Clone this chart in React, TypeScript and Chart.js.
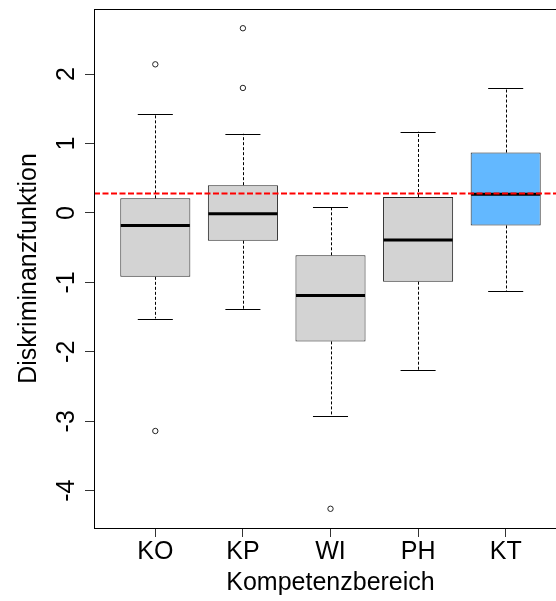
import React, { useEffect, useRef } from "react";
import { Chart, registerables } from "chart.js";

Chart.register(...registerables);

// ---- data ----
const categories = ["KO", "KP", "WI", "PH", "KT"];
const whiskerLow = [-1.52, -1.38, -2.92, -2.26, -1.13];
const quartile1 = [-0.92, -0.4, -1.85, -0.99, -0.18];
const medians = [-0.18, -0.01, -1.19, -0.39, 0.27];
const quartile3 = [0.21, 0.4, -0.61, 0.23, 0.87];
const whiskerHigh = [1.43, 1.14, 0.09, 1.17, 1.8];
const outliers: number[][] = [[2.14, -3.14], [2.66, 1.8], [-4.26], [], []];
const referenceLine = 0.28;
const yTicks = [-4, -3, -2, -1, 0, 1, 2];
const boxColors = ["#D3D3D3", "#D3D3D3", "#D3D3D3", "#D3D3D3", "#63B8FF"];

const xTitle = "Kompetenzbereich";
const yTitle = "Diskriminanzfunktion";

const FONT = "'Liberation Sans', Arial, Helvetica, sans-serif";

const allValues = [...whiskerLow, ...whiskerHigh, ...outliers.flat()];
const dataMin = Math.min(...allValues);
const dataMax = Math.max(...allValues);
const yPad = 0.04 * (dataMax - dataMin);

const BOX_HALF = 0.4;
const STAPLE_HALF = 0.2;

const boxPlugin = {
  id: "boxParts",
  afterDatasetsDraw(chart: any) {
    const { ctx, chartArea, scales } = chart;
    const x = scales.x;
    const y = scales.y;
    const line = (x1: number, y1: number, x2: number, y2: number) => {
      ctx.beginPath();
      ctx.moveTo(x1, y1);
      ctx.lineTo(x2, y2);
      ctx.stroke();
    };
    ctx.save();
    categories.forEach((_, i) => {
      const cx = Math.round(x.getPixelForValue(i)) + 0.5;
      ctx.strokeStyle = "#000";
      ctx.lineWidth = 1;
      ctx.setLineDash([3, 2]);
      line(cx, y.getPixelForValue(quartile3[i]), cx, y.getPixelForValue(whiskerHigh[i]));
      line(cx, y.getPixelForValue(quartile1[i]), cx, y.getPixelForValue(whiskerLow[i]));
      ctx.setLineDash([]);
      const sl = x.getPixelForValue(i - STAPLE_HALF);
      const sr = x.getPixelForValue(i + STAPLE_HALF);
      const hy = Math.round(y.getPixelForValue(whiskerHigh[i])) + 0.5;
      const ly = Math.round(y.getPixelForValue(whiskerLow[i])) + 0.5;
      line(sl, hy, sr, hy);
      line(sl, ly, sr, ly);
      ctx.lineWidth = 3;
      const my = y.getPixelForValue(medians[i]);
      line(x.getPixelForValue(i - BOX_HALF) + 0.5, my, x.getPixelForValue(i + BOX_HALF) - 0.5, my);
    });
    // reference line
    ctx.strokeStyle = "#FF0000";
    ctx.lineWidth = 2;
    ctx.setLineDash([6, 2.5]);
    const ry = y.getPixelForValue(referenceLine);
    line(chartArea.left, ry, chartArea.right, ry);
    // frame
    ctx.setLineDash([]);
    ctx.strokeStyle = "#000";
    ctx.lineWidth = 1;
    const l = Math.round(chartArea.left) + 0.5;
    const t = Math.round(chartArea.top) + 0.5;
    const r = Math.round(chartArea.right) - 0.5;
    const b = Math.round(chartArea.bottom) + 0.5;
    ctx.strokeRect(l, t, r - l, b - t);
    ctx.restore();
  },
  afterDraw(chart: any) {
    const { ctx, chartArea, scales } = chart;
    const y = scales.y;
    ctx.save();
    ctx.font = `25px ${FONT}`;
    ctx.fillStyle = "#000";
    ctx.textAlign = "center";
    ctx.textBaseline = "alphabetic";
    yTicks.forEach((v) => {
      const py = y.getPixelForValue(v);
      ctx.save();
      ctx.translate(chartArea.left - 20.5, py);
      ctx.rotate(-Math.PI / 2);
      ctx.fillText(String(v), 0, 0);
      ctx.restore();
    });
    ctx.restore();
  },
};

export default function App() {
  const canvasRef = useRef<HTMLCanvasElement | null>(null);

  useEffect(() => {
    if (!canvasRef.current) return;
    const boxData = categories.map((_, i) => ({ x: i, y: [quartile1[i], quartile3[i]] }));
    const outlierData: { x: number; y: number }[] = [];
    outliers.forEach((vals, i) => vals.forEach((v) => outlierData.push({ x: i, y: v })));

    const chart = new Chart(canvasRef.current, {
      type: "bar",
      data: {
        datasets: [
          {
            type: "bar",
            data: boxData as any,
            backgroundColor: boxColors,
            borderColor: "#222",
            borderWidth: 1,
            borderSkipped: false,
            barPercentage: 0.8,
            categoryPercentage: 1,
            grouped: false,
          } as any,
          {
            type: "scatter",
            data: outlierData,
            pointStyle: "circle",
            pointRadius: 2.7,
            pointBorderWidth: 1,
            borderColor: "#222",
            backgroundColor: "rgba(0,0,0,0)",
            pointBackgroundColor: "rgba(0,0,0,0)",
            pointBorderColor: "#222",
          } as any,
        ],
      },
      options: {
        responsive: false,
        maintainAspectRatio: false,
        devicePixelRatio: 1,
        animation: false,
        events: [],
        layout: { padding: { top: 9, left: 0, right: 1, bottom: 0 } },
        plugins: { legend: { display: false }, tooltip: { enabled: false } },
        scales: {
          x: {
            type: "linear",
            min: -0.7,
            max: categories.length - 1 + 0.7,
            offset: false,
            afterBuildTicks: (scale: any) => {
              scale.ticks = categories.map((_, i) => ({ value: i }));
            },
            afterFit: (scale: any) => {
              scale.height = 73;
            },
            ticks: {
              autoSkip: false,
              maxRotation: 0,
              minRotation: 0,
              padding: 0,
              color: "#000",
              font: { family: FONT, size: 25 },
              callback: (v: any) => categories[Number(v)] ?? "",
            },
            grid: {
              offset: false,
              drawOnChartArea: false,
              drawTicks: true,
              tickLength: 9,
              tickColor: "#333",
            },
            border: { display: false },
            title: {
              display: true,
              text: xTitle,
              color: "#000",
              font: { family: FONT, size: 25 },
              padding: { top: 0, bottom: 2.4 },
            },
          },
          y: {
            type: "linear",
            min: dataMin - yPad,
            max: dataMax + yPad,
            afterBuildTicks: (scale: any) => {
              scale.ticks = yTicks.map((v) => ({ value: v }));
            },
            afterFit: (scale: any) => {
              scale.width = 94;
            },
            ticks: { display: false },
            grid: {
              offset: false,
              drawOnChartArea: false,
              drawTicks: true,
              tickLength: 9,
              tickColor: "#333",
            },
            border: { display: false },
            title: {
              display: true,
              text: yTitle,
              color: "#000",
              font: { family: FONT, size: 25 },
              padding: { top: 14.6, bottom: 0 },
            },
          },
        },
      },
      plugins: [boxPlugin],
    });
    return () => chart.destroy();
  }, []);

  return (
    <div
      style={{
        position: "absolute",
        left: 0,
        top: 0,
        width: 556,
        height: 601,
        overflow: "hidden",
        background: "#fff",
      }}
    >
      <canvas ref={canvasRef} width={572} height={601} style={{ display: "block" }} />
    </div>
  );
}
